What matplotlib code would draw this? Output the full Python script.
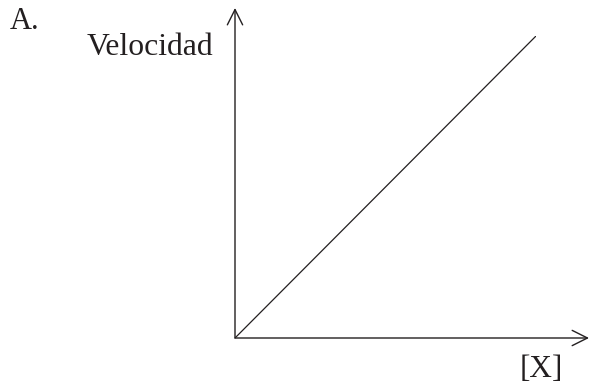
import matplotlib
matplotlib.use("Agg")
import matplotlib.pyplot as plt

# Data
concentration = [0, 10]
velocity = [0, 10]
panel_label = "A."
y_label = "Velocidad"
x_label = "[X]"

W, H = 590, 387
INK = "#231f20"
plt.rcParams['font.family'] = ['Liberation Serif', 'DejaVu Serif']

fig = plt.figure(figsize=(W / 100, H / 100), dpi=100)
ox, oy = 235, 338
ex, ey = 536, 36
ax = fig.add_axes([ox / W, 1 - oy / H, (ex - ox) / W, (oy - ey) / H])
ax.set_xlim(0, 10)
ax.set_ylim(0, 10)
ax.axis('off')

ax.plot(concentration, velocity, color=INK, lw=0.9, solid_capstyle='butt')

xs = (ex - ox) / 10.0
ys = (oy - ey) / 10.0
x_end = (589 - ox) / xs
y_end = (oy - 8) / ys
arrow = dict(arrowstyle='->,head_length=1.1,head_width=0.55', lw=1.0, color=INK,
             shrinkA=0, shrinkB=0, mutation_scale=10)
ax.annotate('', xy=(x_end, 0), xytext=(0, 0), arrowprops=arrow, annotation_clip=False)
ax.annotate('', xy=(0, y_end), xytext=(0, 0), arrowprops=arrow, annotation_clip=False)

fig.text(10 / W, 1 - 29 / H, panel_label, fontsize=22, color=INK, ha='left', va='baseline')
fig.text(87 / W, 1 - 55 / H, y_label, fontsize=22.8, color=INK, ha='left', va='baseline')
fig.text(541 / W, 1 - 377 / H, x_label, fontsize=22.5, color=INK, ha='center', va='baseline')

fig.savefig('out.png', dpi=100)
